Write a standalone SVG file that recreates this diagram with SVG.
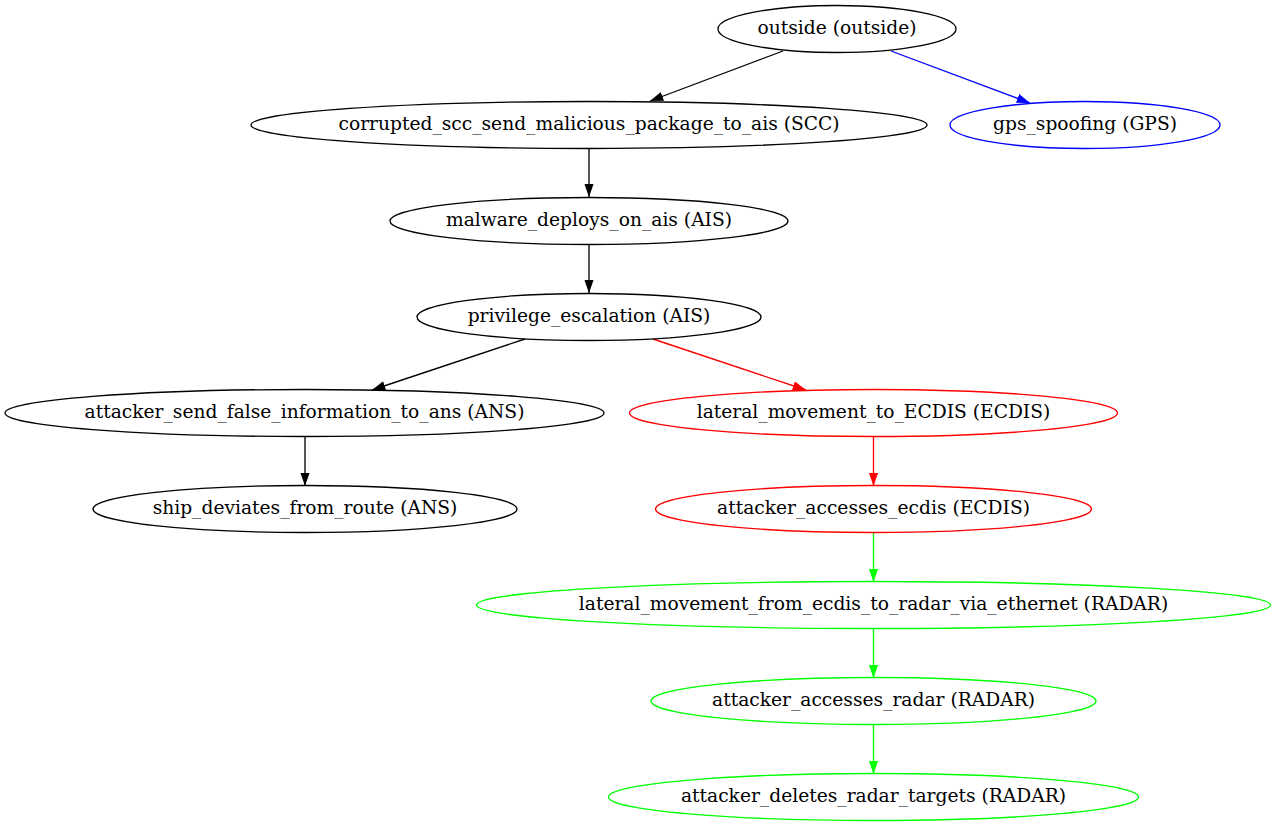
<svg xmlns="http://www.w3.org/2000/svg" width="1275" height="827" viewBox="0 0 1275 827">
<style>
.n ellipse{fill:none;stroke-width:1.33}
.n text{font-family:"DejaVu Serif",serif;font-size:18.67px;text-anchor:middle}
.k ellipse{stroke:#000}.k text{fill:#000}
.b ellipse{stroke:#0000ff}.b text{fill:#000}
.r ellipse{stroke:#ff0000}
.g ellipse{stroke:#00ff00}
#edges line{stroke-width:1.33}
</style>
<defs>
<marker id="ak" markerUnits="userSpaceOnUse" markerWidth="14" markerHeight="10" refX="13.3" refY="4.67" orient="auto"><path d="M0,0L13.3,4.67L0,9.33z" fill="#000"/></marker>
<marker id="ab" markerUnits="userSpaceOnUse" markerWidth="14" markerHeight="10" refX="13.3" refY="4.67" orient="auto"><path d="M0,0L13.3,4.67L0,9.33z" fill="#0000ff"/></marker>
<marker id="ar" markerUnits="userSpaceOnUse" markerWidth="14" markerHeight="10" refX="13.3" refY="4.67" orient="auto"><path d="M0,0L13.3,4.67L0,9.33z" fill="#ff0000"/></marker>
<marker id="ag" markerUnits="userSpaceOnUse" markerWidth="14" markerHeight="10" refX="13.3" refY="4.67" orient="auto"><path d="M0,0L13.3,4.67L0,9.33z" fill="#00ff00"/></marker>
</defs>
<rect width="1275" height="827" fill="#fff"/>
<g id="edges">
<line x1="783" y1="51" x2="650" y2="101" stroke="#000" marker-end="url(#ak)"/>
<line x1="891" y1="51" x2="1030" y2="103" stroke="#0000ff" marker-end="url(#ab)"/>
<line x1="589" y1="149" x2="589" y2="197" stroke="#000" marker-end="url(#ak)"/>
<line x1="589" y1="245" x2="589" y2="293" stroke="#000" marker-end="url(#ak)"/>
<line x1="525" y1="339" x2="372" y2="390" stroke="#000" marker-end="url(#ak)"/>
<line x1="653" y1="339" x2="806" y2="390" stroke="#ff0000" marker-end="url(#ar)"/>
<line x1="305" y1="436" x2="305" y2="486" stroke="#000" marker-end="url(#ak)"/>
<line x1="873.5" y1="436" x2="873.5" y2="486" stroke="#ff0000" marker-end="url(#ar)"/>
<line x1="873.5" y1="532" x2="873.5" y2="582" stroke="#00ff00" marker-end="url(#ag)"/>
<line x1="873.5" y1="628" x2="873.5" y2="678" stroke="#00ff00" marker-end="url(#ag)"/>
<line x1="873.5" y1="724" x2="873.5" y2="774" stroke="#00ff00" marker-end="url(#ag)"/>
</g>
<g id="outside" class="n k"><ellipse cx="837" cy="29" rx="119" ry="23.5"/><text x="837" y="34">outside (outside)</text></g>
<g id="corrupted_scc" class="n k"><ellipse cx="589" cy="125" rx="338" ry="23.5"/><text x="589" y="130">corrupted_scc_send_malicious_package_to_ais (SCC)</text></g>
<g id="gps_spoofing" class="n b"><ellipse cx="1085" cy="125" rx="135" ry="23.5"/><text x="1085" y="130">gps_spoofing (GPS)</text></g>
<g id="malware_deploys" class="n k"><ellipse cx="589" cy="221" rx="199" ry="23.5"/><text x="589" y="226">malware_deploys_on_ais (AIS)</text></g>
<g id="privilege_escalation" class="n k"><ellipse cx="589" cy="317" rx="172" ry="23.5"/><text x="589" y="322">privilege_escalation (AIS)</text></g>
<g id="attacker_send_false" class="n k"><ellipse cx="304.5" cy="413" rx="299.5" ry="23.5"/><text x="304.5" y="418">attacker_send_false_information_to_ans (ANS)</text></g>
<g id="lateral_ecdis" class="n r"><ellipse cx="873.5" cy="413" rx="244" ry="23.5"/><text x="873.5" y="418">lateral_movement_to_ECDIS (ECDIS)</text></g>
<g id="ship_deviates" class="n k"><ellipse cx="305" cy="509" rx="212" ry="23.5"/><text x="305" y="514">ship_deviates_from_route (ANS)</text></g>
<g id="accesses_ecdis" class="n r"><ellipse cx="873.5" cy="509" rx="218" ry="23.5"/><text x="873.5" y="514">attacker_accesses_ecdis (ECDIS)</text></g>
<g id="lateral_radar" class="n g"><ellipse cx="873.5" cy="605" rx="397" ry="23.5"/><text x="873.5" y="610">lateral_movement_from_ecdis_to_radar_via_ethernet (RADAR)</text></g>
<g id="accesses_radar" class="n g"><ellipse cx="873.5" cy="701" rx="222.5" ry="23.5"/><text x="873.5" y="706">attacker_accesses_radar (RADAR)</text></g>
<g id="deletes_targets" class="n g"><ellipse cx="873.5" cy="797" rx="265" ry="23.5"/><text x="873.5" y="802">attacker_deletes_radar_targets (RADAR)</text></g>
</svg>
